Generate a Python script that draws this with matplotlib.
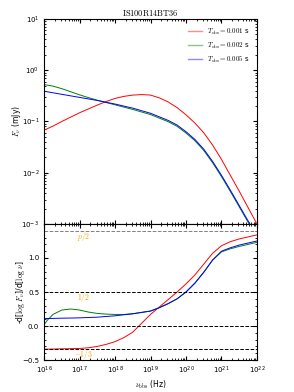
import numpy as np
import matplotlib
matplotlib.use('Agg')
import matplotlib.pyplot as plt
from matplotlib.ticker import LogLocator, MultipleLocator, NullFormatter

plt.rcParams['mathtext.fontset'] = 'cm'
plt.rcParams['font.size'] = 5
plt.rcParams['xtick.direction'] = 'in'
plt.rcParams['ytick.direction'] = 'in'

# log10(nu_obs / Hz)
lognu_top = [16.0, 16.25, 16.5, 16.75, 17.0, 17.25, 17.5, 17.75, 18.0, 18.25,
             18.5, 18.75, 19.0, 19.25, 19.5, 19.75, 20.0, 20.25, 20.5, 20.75,
             21.0, 21.25, 21.5, 21.75, 22.0]
# log10(F_nu / mJy)
logF_001 = [-1.17, -1.09, -1.00, -0.915, -0.83, -0.755, -0.68, -0.61, -0.55, -0.51,
            -0.485, -0.475, -0.485, -0.54, -0.62, -0.73, -0.87, -1.03, -1.22, -1.46,
            -1.74, -2.05, -2.36, -2.68, -3.00]
logF_002 = [-0.28, -0.31, -0.36, -0.42, -0.48, -0.535, -0.585, -0.63, -0.675, -0.72,
            -0.765, -0.815, -0.865, -0.935, -1.005, -1.095, -1.225, -1.375, -1.565, -1.805,
            -2.075, -2.365, -2.665, -2.965, -3.265]
logF_005 = [-0.41, -0.44, -0.47, -0.50, -0.53, -0.56, -0.59, -0.625, -0.66, -0.70,
            -0.74, -0.79, -0.84, -0.91, -0.98, -1.07, -1.20, -1.35, -1.54, -1.78,
            -2.05, -2.34, -2.64, -2.94, -3.24]

# spectral index -dlogF/dlognu
lognu_bot = [16.0, 16.1, 16.25, 16.5, 16.75, 17.0, 17.25, 17.5, 17.75, 18.0,
             18.25, 18.5, 18.75, 19.0, 19.25, 19.5, 19.75, 20.0, 20.25, 20.5,
             20.75, 21.0, 21.25, 21.5, 21.75, 22.0]
beta_001 = [-0.34, -0.34, -0.338, -0.335, -0.333, -0.33, -0.32, -0.30, -0.27, -0.23,
            -0.17, -0.09, 0.04, 0.17, 0.28, 0.39, 0.50, 0.62, 0.75, 0.91,
            1.07, 1.18, 1.24, 1.28, 1.31, 1.34]
beta_002 = [0.02, 0.09, 0.17, 0.235, 0.25, 0.235, 0.205, 0.185, 0.175, 0.17,
            0.17, 0.18, 0.20, 0.22, 0.27, 0.33, 0.40, 0.50, 0.63, 0.79,
            0.97, 1.09, 1.135, 1.17, 1.20, 1.23]
beta_005 = [0.11, 0.11, 0.112, 0.115, 0.117, 0.12, 0.125, 0.13, 0.14, 0.15,
            0.165, 0.18, 0.20, 0.22, 0.27, 0.33, 0.40, 0.50, 0.63, 0.79,
            0.97, 1.10, 1.15, 1.19, 1.22, 1.25]

labels = [r'$T_{\rm obs}=0.001$ s', r'$T_{\rm obs}=0.002$ s', r'$T_{\rm obs}=0.005$ s']
colors = ['red', 'green', 'blue']

p = 2.8
ref_vals = [p / 2, 0.5, 0.0, -1.0 / 3]
ref_text = [r'$p/2$', r'$1/2$', '', r'$-1/3$']
ref_colors = ['gray', 'black', 'black', 'black']

fig = plt.figure(figsize=(2.94, 3.92), dpi=100)
ax1 = fig.add_axes([0.150, 0.4286, 0.724, 0.523])
ax2 = fig.add_axes([0.150, 0.0816, 0.724, 0.347], sharex=ax1)

nu_top = 10 ** np.array(lognu_top)
for lf, c, lab in zip([logF_001, logF_002, logF_005], colors, labels):
    ax1.plot(nu_top, 10 ** np.array(lf), color=c, lw=0.7, label=lab)

ax1.set_xscale('log')
ax1.set_yscale('log')
ax1.set_xlim(1e16, 1e22)
ax1.set_ylim(1e-3, 1e1)
ax1.set_ylabel(r'$F_\nu$ (mJy)', fontsize=5.5)
ax1.set_title(r'$\mathrm{IS100R14BT36}$', fontsize=6, pad=2)
leg = ax1.legend(loc='upper right', frameon=False, fontsize=5, handlelength=2.0,
                 borderaxespad=0.7, labelspacing=0.55, handletextpad=0.7)
for h, c in zip(leg.get_lines(), colors):
    h.set_color(c)
    h.set_linewidth(1.0)
    h.set_alpha(0.45)
ax1.tick_params(which='both', top=True, right=True, labelbottom=False, labelsize=5)
ax1.tick_params(which='major', length=3)
ax1.tick_params(which='minor', length=1.5)
ax1.yaxis.set_minor_locator(LogLocator(base=10, subs=np.arange(2, 10)))
ax1.yaxis.set_minor_formatter(NullFormatter())

nu_bot = 10 ** np.array(lognu_bot)
for b, c in zip([beta_001, beta_002, beta_005], colors):
    ax2.plot(nu_bot, b, color=c, lw=0.7)

for v, t, rc in zip(ref_vals, ref_text, ref_colors):
    ax2.axhline(v, color=rc, ls='--', lw=0.7)
    if t:
        ax2.text(1.3e17, v - 0.08, t, color='orange', fontsize=5.5, ha='center', va='center')

ax2.set_ylim(-0.5, 1.5)
ax2.set_yticks([-0.5, 0.0, 0.5, 1.0])
ax2.yaxis.set_minor_locator(MultipleLocator(0.1))
ax2.set_xlim(1e16, 1e22)
ax2.xaxis.set_major_locator(LogLocator(base=10, numticks=10))
ax2.xaxis.set_minor_locator(LogLocator(base=10, subs=np.arange(2, 10), numticks=20))
ax2.xaxis.set_minor_formatter(NullFormatter())
ax2.tick_params(which='both', top=True, right=True, labelsize=5)
ax2.tick_params(which='major', length=3)
ax2.tick_params(which='minor', length=1.5)
ax2.set_xlabel(r'$\nu_{\rm obs}$ (Hz)', fontsize=5.5, labelpad=2)
ax2.set_ylabel(r'-d[$\log\,F_\nu$]/d[$\log\,\nu$]', fontsize=5.5)

ax1.yaxis.set_label_coords(-0.10, 0.5)
ax2.yaxis.set_label_coords(-0.08, 0.5)

fig.savefig('out.png', dpi=100)
